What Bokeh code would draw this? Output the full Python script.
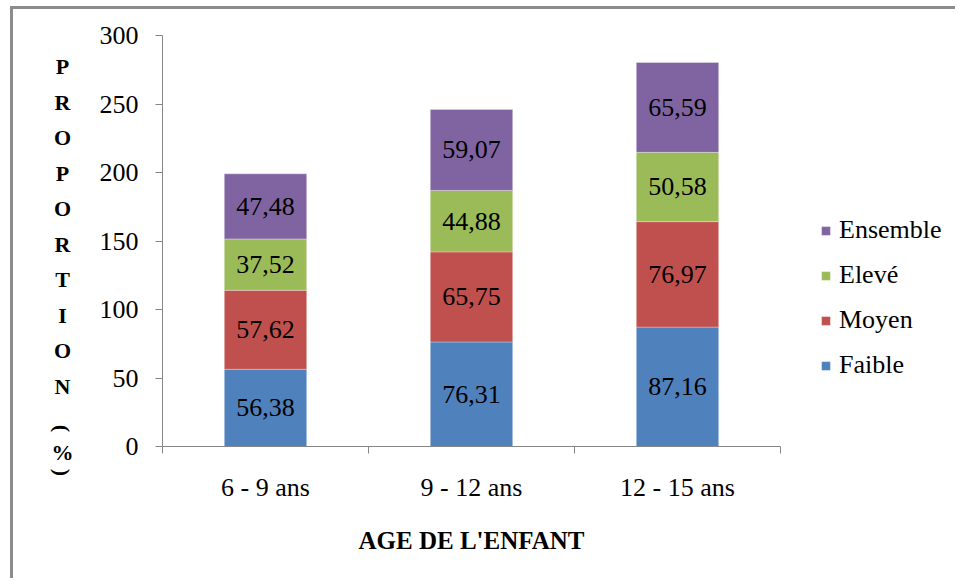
import math
from bokeh.plotting import figure
from bokeh.models import ColumnDataSource, FixedTicker, Legend, LegendItem, Label
from bokeh.core.properties import value
from bokeh.embed import file_html
from bokeh.resources import INLINE

# ---------------- data ----------------
categories = ["6 - 9 ans", "9 - 12 ans", "12 - 15 ans"]
series_names = ["Faible", "Moyen", "Elevé", "Ensemble"]
faible = [56.38, 76.31, 87.16]
moyen = [57.62, 65.75, 76.97]
eleve = [37.52, 44.88, 50.58]
ensemble = [47.48, 59.07, 65.59]
y_ticks = [0, 50, 100, 150, 200, 250, 300]
y_title_chars = ["P", "R", "O", "P", "O", "R", "T", "I", "O", "N", "(", "%", ")"]
x_title = "AGE DE L'ENFANT"

colors = ["#4F81BD", "#C0504D", "#9BBB59", "#8064A2"]
FONT = "Liberation Serif"

# ---------------- layout (pixels) ----------------
OX, OY = 13, 9            # canvas origin in the window (after margin + border)
W, H = 945, 572           # canvas size
AX_LEFT, AX_BOTTOM = 162, 446   # where the axes cross, window pixels
PX_X = 206                # pixels per category
PX_Y = 411 / 300          # pixels per unit of y

x0 = (OX - AX_LEFT) / PX_X
x1 = (OX + W - AX_LEFT) / PX_X
y1 = (AX_BOTTOM - OY) / PX_Y
y0 = (AX_BOTTOM - (OY + H)) / PX_Y

n = len(categories)
xs = [i + 0.5 for i in range(n)]
keys = ["faible", "moyen", "eleve", "ensemble"]
src = ColumnDataSource(dict(x=xs, faible=faible, moyen=moyen, eleve=eleve, ensemble=ensemble))

p = figure(width=W, height=H, x_range=(x0, x1), y_range=(y0, y1),
           output_backend="svg", toolbar_location=None, min_border=0)
p.styles = {"margin-left": "10px", "margin-top": "6px",
            "border-top": "3px solid #8C8C8C", "border-left": "3px solid #8C8C8C"}
p.outline_line_color = None
p.grid.grid_line_color = None
p.background_fill_color = "white"
p.border_fill_color = "white"

renderers = p.vbar_stack(keys, x="x", width=0.4, color=colors, source=src,
                         line_color="white", line_alpha=0.5, line_width=0.6)

# value labels centred in each segment
lx, ly, lt = [], [], []
series_vals = [faible, moyen, eleve, ensemble]
for i, xv in enumerate(xs):
    bottom = 0.0
    for vals in series_vals:
        v = vals[i]
        lx.append(xv)
        ly.append(bottom + v / 2)
        lt.append(f"{v:.2f}".replace(".", ","))
        bottom += v
p.text(x=lx, y=ly, text=lt, text_align="center", text_baseline="middle",
       text_font=value(FONT), text_font_size="26px", text_color="black")

# y axis
ya = p.yaxis[0]
ya.fixed_location = 0
ya.bounds = (0, max(y_ticks))
ya.ticker = FixedTicker(ticks=y_ticks)
ya.major_tick_out = 7
ya.major_tick_in = 0
ya.minor_tick_out = 0
ya.minor_tick_in = 0
ya.axis_line_color = "#868686"
ya.major_tick_line_color = "#868686"
ya.major_label_text_font = FONT
ya.major_label_text_font_size = "26px"
ya.major_label_text_color = "black"
ya.major_label_standoff = 17

# x axis
xa = p.xaxis[0]
xa.fixed_location = 0
xa.bounds = (0, n)
xa.ticker = FixedTicker(ticks=xs, minor_ticks=list(range(n + 1)))
xa.major_label_overrides = {xv: c for xv, c in zip(xs, categories)}
xa.major_tick_out = 0
xa.major_tick_in = 0
xa.minor_tick_out = 7
xa.minor_tick_in = 0
xa.minor_tick_line_color = "#868686"
xa.axis_line_color = "#868686"
xa.major_label_text_font = FONT
xa.major_label_text_font_size = "26px"
xa.major_label_text_color = "black"
xa.major_label_standoff = 19
xa.axis_label = x_title
xa.axis_label_text_font = FONT
xa.axis_label_text_font_style = "bold"
xa.axis_label_text_font_size = "25px"
xa.axis_label_text_color = "black"
xa.axis_label_standoff = 22

# vertical stacked y title
y_title_px = [66, 101.5, 137, 172.5, 208, 243.5, 279, 314.5, 350, 385.5, 428, 452, 472]
title_x = (62 - AX_LEFT) / PX_X
upright = [(ch, ys) for ch, ys in zip(y_title_chars, y_title_px) if ch not in "()"]
turned = [(ch, ys) for ch, ys in zip(y_title_chars, y_title_px) if ch in "()"]
for ch, ys in upright:
    p.add_layout(Label(x=title_x, y=(AX_BOTTOM - ys) / PX_Y, text=ch,
                       text_align="center", text_baseline="middle",
                       text_font=FONT, text_font_style="bold", text_font_size="22px",
                       text_color="black"))
p.text(x=[title_x] * len(turned), y=[(AX_BOTTOM - ys) / PX_Y for _, ys in turned],
       text=[ch for ch, _ in turned], angle=-math.pi / 2,
       text_align="center", text_baseline="middle",
       text_font=value(FONT), text_font_style="bold", text_font_size="22px",
       text_color="black")

# legend
items = [LegendItem(label=name, renderers=[r]) for name, r in zip(series_names, renderers)]
legend = Legend(items=list(reversed(items)), location=(820 - OX, OY + H - 380))
legend.border_line_color = None
legend.background_fill_alpha = 0
legend.label_text_font = FONT
legend.label_text_font_size = "26px"
legend.label_text_color = "black"
legend.glyph_width = 11
legend.glyph_height = 11
legend.spacing = 15
legend.label_standoff = 8
legend.padding = 0
legend.margin = 0
p.add_layout(legend)

open("out.html", "w").write(file_html(p, INLINE))
